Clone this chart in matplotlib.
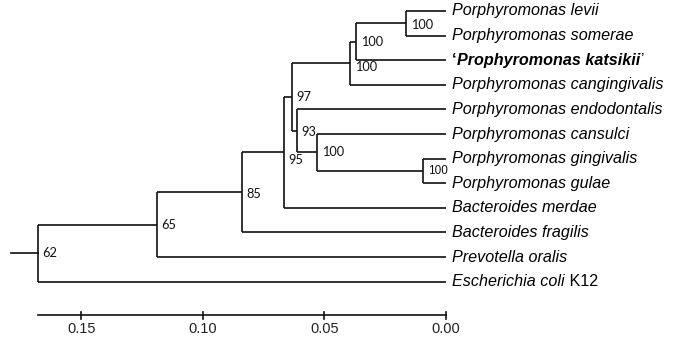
import numpy as np
import matplotlib
matplotlib.use("Agg")
import matplotlib.pyplot as plt

# leaf names, top to bottom
taxa = ["Porphyromonas levii", "Porphyromonas somerae", "Prophyromonas katsikii",
        "Porphyromonas cangingivalis", "Porphyromonas endodontalis",
        "Porphyromonas cansulci", "Porphyromonas gingivalis", "Porphyromonas gulae",
        "Bacteroides merdae", "Bacteroides fragilis", "Prevotella oralis",
        "Escherichia coli"]

# internal nodes in post order: children (leaf index or node name), height, bootstrap
node_names = ["A", "B", "C", "D", "E", "F", "G", "H", "I", "J", "K"]
node_children = [(0, 1), ("A", 2), ("B", 3), (6, 7), (5, "D"), (4, "E"),
                 ("C", "F"), ("G", 8), ("H", 9), ("I", 10), ("J", 11)]
node_heights = [0.0165, 0.037, 0.0395, 0.0095, 0.0531, 0.0613,
                0.0634, 0.0667, 0.084, 0.119, 0.168]
node_support = [100, 100, 100, 100, 100, 93, 97, 95, 85, 65, 62]

scale_ticks = [0.15, 0.10, 0.05, 0.00]
scale_labels = ["0.15", "0.10", "0.05", "0.00"]

# label nudges (in leaf units, +down)
label_dy = [0.05, 0.0, 0.17, 0.0, 0.0, 0.05, 0.0, 0.3, 0.05, 0.0, 0.0]

fig = plt.figure(figsize=(6.8, 3.39), dpi=100)
ax = fig.add_axes([0, 0, 1, 1])
ax.set_xlim(0.1835, -0.0963)
ax.set_ylim(13.33, -0.447)
ax.axis("off")

lw = 1.2
col = "#111111"

pos = {}
for i in range(len(taxa)):
    pos[i] = (0.0, float(i))

for name, ch, h, sup, dy in zip(node_names, node_children, node_heights, node_support, label_dy):
    ys = [pos[c][1] for c in ch]
    ax.plot([h, h], [min(ys), max(ys)], color=col, lw=lw, solid_capstyle="butt")
    for c in ch:
        cx, cy = pos[c]
        ax.plot([h, cx], [cy, cy], color=col, lw=lw, solid_capstyle="butt")
    ym = np.mean(ys)
    pos[name] = (h, ym)
    fam = "Liberation Sans" if name == "D" else "Lato"
    fs = 8.5 if name == "D" else 9.2
    ax.annotate(str(sup), (h, ym + dy), xytext=(3.5, 0), textcoords="offset points",
                ha="left", va="center", fontsize=fs, family=fam, color=col)

# root stub
rx, ry = pos["K"]
ax.plot([0.179, rx], [ry, ry], color=col, lw=lw)

# leaf labels
fs = 11.6
for i, t in enumerate(taxa):
    if t == "Prophyromonas katsikii":
        a = ax.annotate("\u2018", (0, i), xytext=(4.5, 0), textcoords="offset points",
                        ha="left", va="center", fontsize=fs, family="Liberation Sans",
                        fontweight="bold", color="black")
        b = ax.annotate(t, (1, 0), xycoords=a, ha="left", va="bottom", fontsize=fs,
                        family="Liberation Sans", fontweight="bold", fontstyle="italic",
                        color="black")
        ax.annotate("\u2019", (1, 0), xycoords=b, ha="left", va="bottom", fontsize=fs,
                    family="Liberation Sans", color="black")
    elif t == "Escherichia coli":
        a = ax.annotate(t, (0, i), xytext=(4.5, 0), textcoords="offset points",
                        ha="left", va="center", fontsize=fs, family="Liberation Sans",
                        fontstyle="italic", color="black")
        ax.annotate(" K12", (1, 0), xycoords=a, ha="left", va="bottom", fontsize=fs,
                    family="Liberation Sans", color="black")
    else:
        ax.annotate(t, (0, i), xytext=(4.5, 0), textcoords="offset points",
                    ha="left", va="center", fontsize=fs, family="Liberation Sans",
                    fontstyle="italic", color="black")

# scale axis
sy = 12.36
ax.plot([node_heights[-1], 0.0], [sy, sy], color=col, lw=lw)
for v, lab in zip(scale_ticks, scale_labels):
    ax.plot([v, v], [sy - 0.13, sy + 0.15], color=col, lw=lw)
    ax.text(v, sy + 0.55, lab, ha="center", va="center", fontsize=10.5,
            family="Liberation Sans", color="#222222")

fig.savefig("out.png", dpi=100)
